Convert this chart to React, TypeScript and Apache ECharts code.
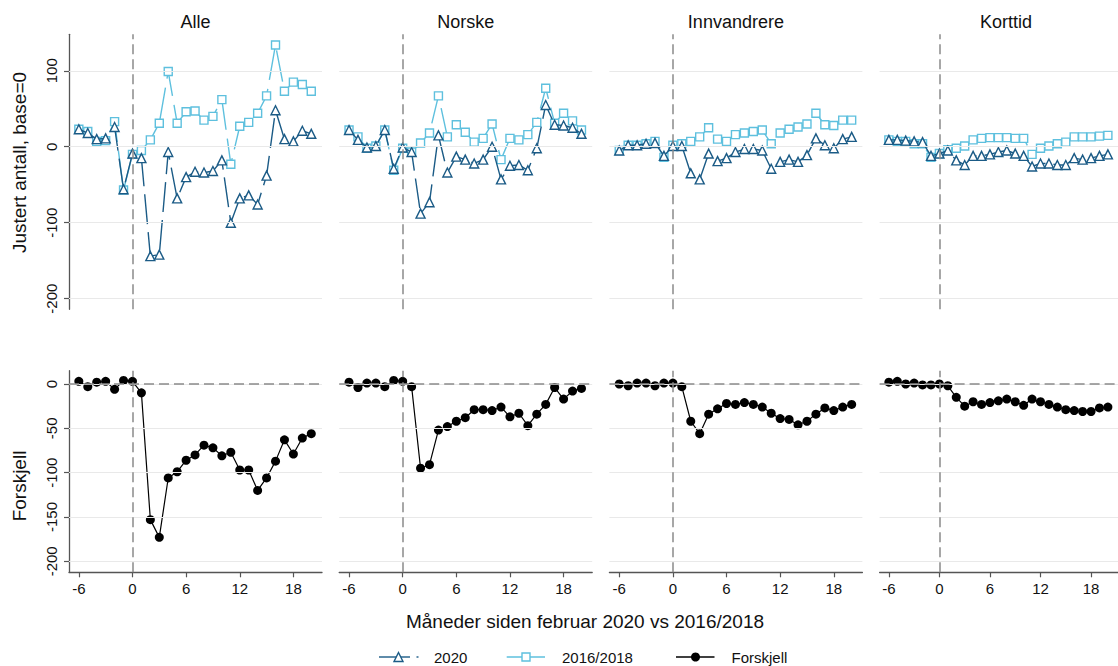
import React, { useEffect, useRef } from "react";
import * as echarts from "echarts";

const months = [-6, -5, -4, -3, -2, -1, 0, 1, 2, 3, 4, 5, 6, 7, 8, 9, 10, 11, 12, 13, 14, 15, 16, 17, 18, 19, 20];
const panelTitles = ["Alle", "Norske", "Innvandrere", "Korttid"];
const legendNames = ["2020", "2016/2018", "Forskjell"];

const alle2020 = [23, 18, 10, 11, 26, -56, -9, -15, -144, -142, -7, -68, -40, -33, -34, -32, -18, -100, -68, -64, -76, -38, 48, 10, 7, 21, 17];
const alleRef = [23, 20, 7, 8, 33, -57, -10, -5, 9, 31, 99, 31, 46, 47, 35, 40, 62, -23, 27, 32, 44, 67, 134, 73, 85, 82, 73];
const alleDiff = [3, -3, 2, 3, -6, 4, 3, -10, -153, -173, -106, -99, -86, -80, -69, -72, -81, -77, -97, -97, -120, -106, -87, -63, -79, -61, -56];

const norske2020 = [22, 9, -1, 1, 22, -29, -1, -7, -88, -73, 15, -34, -13, -17, -22, -17, 0, -43, -25, -24, -31, -2, 55, 29, 28, 25, 17];
const norskeRef = [22, 13, -2, 1, 22, -31, -2, -7, 5, 18, 67, 13, 29, 19, 6, 11, 30, -17, 11, 9, 16, 32, 77, 31, 44, 34, 22];
const norskeDiff = [2, -4, 1, 1, -3, 4, 3, -3, -95, -91, -52, -48, -42, -38, -29, -29, -30, -26, -37, -33, -47, -34, -23, -4, -17, -8, -5];

const innv2020 = [-5, 2, 2, 4, 5, -12, 1, 1, -35, -43, -9, -19, -15, -7, -3, -3, -5, -29, -20, -17, -20, -11, 11, 2, -2, 10, 13];
const innvRef = [-5, 2, 2, 4, 7, -14, 2, 4, 7, 13, 25, 10, 7, 16, 18, 20, 22, 4, 18, 23, 26, 30, 44, 29, 28, 35, 35];
const innvDiff = [0, -2, 1, 1, -2, 1, 1, -3, -42, -56, -34, -28, -22, -23, -21, -23, -26, -33, -39, -40, -46, -42, -34, -27, -30, -26, -23];

const kort2020 = [9, 9, 8, 7, 6, -12, -9, -5, -18, -24, -12, -12, -10, -7, -5, -9, -12, -26, -22, -22, -24, -24, -15, -17, -15, -12, -10];
const kortRef = [9, 7, 7, 4, 4, -14, -9, -4, -2, 1, 9, 11, 12, 12, 12, 11, 11, -10, -2, 1, 4, 6, 13, 13, 13, 14, 15];
const kortDiff = [2, 3, 0, 1, -1, -1, 0, -2, -15, -25, -20, -23, -21, -19, -17, -20, -24, -17, -20, -23, -26, -29, -30, -31, -31, -27, -26];

const values2020 = [alle2020, norske2020, innv2020, kort2020];
const valuesRef = [alleRef, norskeRef, innvRef, kortRef];
const valuesDiff = [alleDiff, norskeDiff, innvDiff, kortDiff];

const topTicks = [100, 0, -100, -200];
const bottomTicks = [0, -50, -100, -150, -200];
const xTicks = [-6, 0, 6, 12, 18];

const DARK = "#1b5b86";
const LIGHT = "#5ec0de";
const FONT = "'Liberation Sans', Arial, Helvetica, sans-serif";

export default function App() {
  const ref = useRef<HTMLDivElement>(null);

  useEffect(() => {
    if (!ref.current) return;
    const chart = echarts.init(ref.current, undefined, { renderer: "svg" });

    const PANEL_LEFT = 69;
    const PANEL_STEP = 270.2;
    const PANEL_W = 253;
    const TOP_Y = 34.3;
    const TOP_H = 275;
    const BOT_Y = 370.7;
    const BOT_H = 201.6;

    const grids: any[] = [];
    const xAxes: any[] = [];
    const yAxes: any[] = [];
    const series: any[] = [];

    const axisColor = "#555555";

    for (let row = 0; row < 2; row++) {
      for (let i = 0; i < 4; i++) {
        const gi = row * 4 + i;
        const isBottom = row === 1;
        grids.push({
          left: PANEL_LEFT + PANEL_STEP * i,
          width: PANEL_W,
          top: isBottom ? BOT_Y : TOP_Y,
          height: isBottom ? BOT_H : TOP_H,
          containLabel: false,
        });
        xAxes.push({
          type: "value",
          gridIndex: gi,
          min: -7.1,
          max: 21.2,
          axisLine: { show: isBottom, onZero: false, lineStyle: { color: axisColor, width: 1.3 } },
          axisTick: { show: isBottom, customValues: xTicks, length: 5, lineStyle: { color: axisColor, width: 1.2 } },
          axisLabel: { show: isBottom, customValues: xTicks, fontSize: 15, color: "#111", fontFamily: FONT, margin: 9 },
          splitLine: { show: false },
        });
        const ticks = isBottom ? bottomTicks : topTicks;
        yAxes.push({
          type: "value",
          gridIndex: gi,
          min: isBottom ? -212.4 : -214,
          max: isBottom ? 15 : 148,
          axisLine: { show: i === 0, onZero: false, lineStyle: { color: axisColor, width: 1.3 } },
          axisTick: { show: i === 0, customValues: ticks, length: 5, lineStyle: { color: axisColor, width: 1.2 } },
          axisLabel: { show: i === 0, customValues: ticks, rotate: 90, fontSize: 15, color: "#111", fontFamily: FONT, margin: 10 },
          splitLine: { show: false },
        });

        const markData: any[] = ticks.map((v) => ({
          yAxis: v,
          lineStyle: { color: "#e9e9e9", width: 1, type: "solid" },
        }));
        if (isBottom) {
          markData.push({ yAxis: 0, lineStyle: { color: "#8a8a8a", width: 1.5, type: [10, 5] } });
        }
        markData.push({ xAxis: 0, lineStyle: { color: "#8a8a8a", width: 1.5, type: [10, 5] } });

        series.push({
          type: "line",
          xAxisIndex: gi,
          yAxisIndex: gi,
          data: [],
          z: 1,
          silent: true,
          markLine: {
            silent: true,
            symbol: ["none", "none"],
            label: { show: false },
            animation: false,
            data: markData,
          },
        });

        if (!isBottom) {
          series.push({
            name: legendNames[1],
            type: "line",
            xAxisIndex: gi,
            yAxisIndex: gi,
            data: months.map((m, k) => [m, valuesRef[i][k]]),
            symbol: "rect",
            symbolSize: 8,
            showSymbol: true,
            itemStyle: { color: "#ffffff", borderColor: LIGHT, borderWidth: 1.4 },
            lineStyle: { color: LIGHT, width: 1.4, type: [32, 9] },
            z: 3,
          });
          series.push({
            name: legendNames[0],
            type: "line",
            xAxisIndex: gi,
            yAxisIndex: gi,
            data: months.map((m, k) => [m, values2020[i][k]]),
            symbol: "triangle",
            symbolSize: 9,
            showSymbol: true,
            itemStyle: { color: "#ffffff", borderColor: DARK, borderWidth: 1.4 },
            lineStyle: { color: DARK, width: 1.4, type: [30, 8] },
            z: 4,
          });
        } else {
          series.push({
            name: legendNames[2],
            type: "line",
            xAxisIndex: gi,
            yAxisIndex: gi,
            data: months.map((m, k) => [m, valuesDiff[i][k]]),
            symbol: "circle",
            symbolSize: 9,
            showSymbol: true,
            itemStyle: { color: "#000000" },
            lineStyle: { color: "#000000", width: 1.2 },
            z: 4,
          });
        }
      }
    }

    const graphics: any[] = [];
    panelTitles.forEach((t, i) => {
      graphics.push({
        type: "text",
        x: PANEL_LEFT + PANEL_STEP * i + PANEL_W / 2,
        y: 21.5,
        style: { text: t, fontSize: 18, fontFamily: FONT, fill: "#111", textAlign: "center", textVerticalAlign: "middle" },
      });
    });
    graphics.push({
      type: "text",
      x: 19.5,
      y: 162.5,
      rotation: Math.PI / 2,
      style: { text: "Justert antall, base=0", fontSize: 19, fontFamily: FONT, fill: "#111", textAlign: "center", textVerticalAlign: "middle" },
    });
    graphics.push({
      type: "text",
      x: 19.5,
      y: 486,
      rotation: Math.PI / 2,
      style: { text: "Forskjell", fontSize: 19, fontFamily: FONT, fill: "#111", textAlign: "center", textVerticalAlign: "middle" },
    });
    graphics.push({
      type: "text",
      x: 585,
      y: 621,
      style: { text: "Måneder siden februar 2020 vs 2016/2018", fontSize: 19, fontFamily: FONT, fill: "#111", textAlign: "center", textVerticalAlign: "middle" },
    });

    const LY = 657;
    // legend 2020
    graphics.push({ type: "line", shape: { x1: 379, y1: LY, x2: 410, y2: LY }, style: { stroke: DARK, lineWidth: 1.4 } });
    graphics.push({ type: "line", shape: { x1: 416.5, y1: LY, x2: 418.5, y2: LY }, style: { stroke: DARK, lineWidth: 1.4 } });
    graphics.push({
      type: "polygon",
      shape: { points: [[394, 661.5], [403, 661.5], [398.5, 652.5]] },
      style: { fill: "#ffffff", stroke: DARK, lineWidth: 1.4 },
    });
    graphics.push({
      type: "text", x: 434, y: LY,
      style: { text: legendNames[0], fontSize: 15, fontFamily: FONT, fill: "#111", textAlign: "left", textVerticalAlign: "middle" },
    });
    // legend 2016/2018
    graphics.push({ type: "line", shape: { x1: 506.7, y1: LY, x2: 545, y2: LY }, style: { stroke: LIGHT, lineWidth: 1.4 } });
    graphics.push({
      type: "rect",
      shape: { x: 522, y: LY - 4, width: 8, height: 8 },
      style: { fill: "#ffffff", stroke: LIGHT, lineWidth: 1.4 },
    });
    graphics.push({
      type: "text", x: 562, y: LY,
      style: { text: legendNames[1], fontSize: 15, fontFamily: FONT, fill: "#111", textAlign: "left", textVerticalAlign: "middle" },
    });
    // legend Forskjell
    graphics.push({ type: "line", shape: { x1: 676, y1: LY, x2: 714.5, y2: LY }, style: { stroke: "#000", lineWidth: 1.3 } });
    graphics.push({ type: "circle", shape: { cx: 695.5, cy: LY, r: 4.5 }, style: { fill: "#000" } });
    graphics.push({
      type: "text", x: 731.5, y: LY,
      style: { text: legendNames[2], fontSize: 15, fontFamily: FONT, fill: "#111", textAlign: "left", textVerticalAlign: "middle" },
    });

    chart.setOption({
      animation: false,
      backgroundColor: "#ffffff",
      grid: grids,
      xAxis: xAxes,
      yAxis: yAxes,
      series,
      graphic: graphics,
    });

    return () => {
      chart.dispose();
    };
  }, []);

  return (
    <div
      ref={ref}
      style={{ position: "fixed", left: 0, top: 0, width: 1118, height: 666, background: "#ffffff" }}
    />
  );
}
